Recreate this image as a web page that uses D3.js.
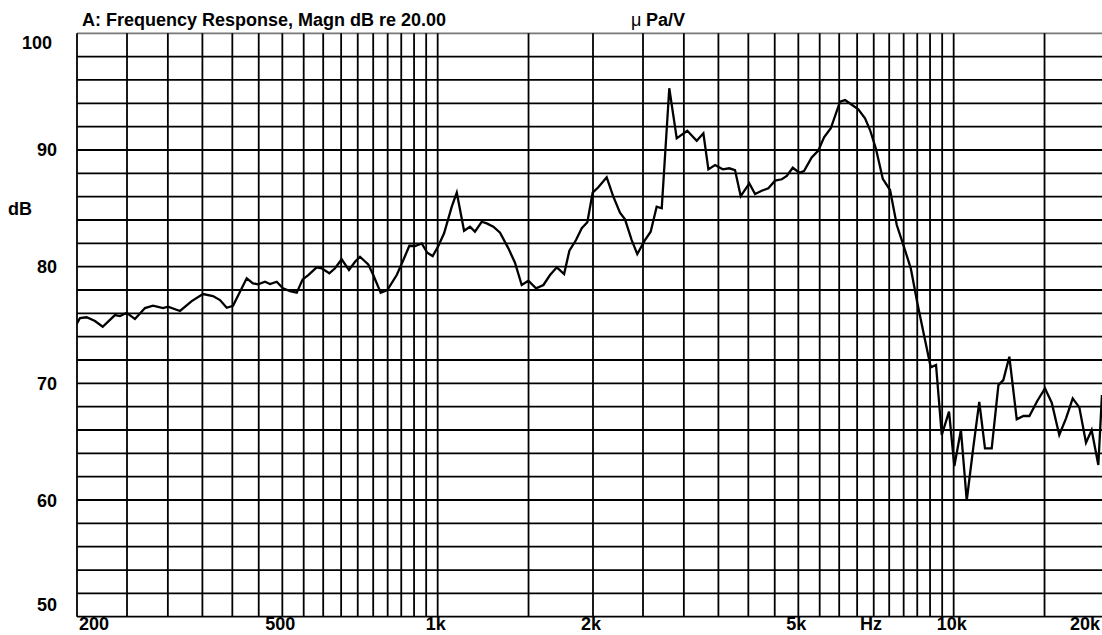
<!DOCTYPE html>
<html>
<head>
<meta charset="utf-8">
<script src="https://cdn.jsdelivr.net/npm/d3@7"></script>
<style>
  body { margin: 0; background: #fff; }
  text { font-family: "Liberation Sans", Arial, sans-serif; font-weight: bold; fill: #000; }
</style>
</head>
<body>
<div id="chart"></div>
<script>
var svgWidth = 1102;
var svgHeight = 635;

// measured frequency response (Hz, dB)
var freqHz = [200, 202.7, 208.8, 216.7, 224.3, 236.9, 242.3, 249.7, 259, 270.9,
  280.7, 293.6, 300.2, 316.7, 333.7, 350.9, 366.9, 378.6, 390.1, 401.2,
  426.5, 438.6, 448.6, 462.8, 473.2, 487.6, 501.4, 517.4, 533.2, 547.5,
  561.4, 582.8, 596, 616.6, 632.5, 651.6, 673.2, 691.6, 707, 733.6,
  750.2, 775.5, 798.7, 833, 858, 881.3, 903.8, 931.2, 954.8, 978,
  1003, 1029, 1065, 1089, 1125, 1155, 1181, 1217, 1245, 1282,
  1321, 1371, 1412, 1455, 1499, 1551, 1603, 1651, 1702, 1758,
  1800, 1854, 1902, 1950, 1997, 2048, 2126, 2188, 2256, 2307,
  2377, 2437, 2522, 2587, 2657, 2718, 2811, 2906, 3046, 3177,
  3273, 3347, 3448, 3569, 3674, 3769, 3866, 4018, 4122, 4246,
  4374, 4507, 4644, 4749, 4877, 5022, 5128, 5307, 5466, 5608,
  5779, 6023, 6159, 6316, 6534, 6733, 6886, 7073, 7288, 7529,
  7758, 7990, 8258, 8506, 8800, 9028, 9243, 9482, 9795, 10030,
  10330, 10600, 10920, 11210, 11500, 11850, 12210, 12480, 12820, 13250,
  13650, 14020, 14530, 15030, 15490, 16020, 16510, 17010, 17520, 18050,
  18510, 19070, 19380];

var magDb = [75.14, 75.6, 75.66, 75.34, 74.85, 75.85, 75.77, 76.05, 75.51, 76.45,
  76.65, 76.45, 76.57, 76.2, 77.05, 77.65, 77.48, 77.14, 76.48, 76.65,
  79.0, 78.57, 78.49, 78.71, 78.51, 78.71, 78.14, 77.91, 77.77, 78.91,
  79.28, 79.94, 79.86, 79.43, 79.86, 80.63, 79.71, 80.42, 80.85, 80.2,
  79.28, 77.77, 78.0, 79.28, 80.57, 81.79, 81.77, 82.0, 81.19, 80.91,
  81.77, 82.86, 85.14, 86.34, 83.08, 83.42, 83.0, 83.85, 83.71, 83.42,
  82.91, 81.57, 80.34, 78.43, 78.79, 78.14, 78.43, 79.28, 79.94, 79.37,
  81.37, 82.28, 83.29, 83.8, 86.34, 86.8, 87.66, 86.05, 84.62, 84.06,
  82.28, 81.08, 82.28, 83.0, 85.14, 85.0, 95.29, 91.0, 91.65, 90.79,
  91.43, 88.34, 88.71, 88.34, 88.43, 88.28, 86.05, 87.14, 86.23, 86.51,
  86.71, 87.37, 87.49, 87.77, 88.48, 88.05, 88.2, 89.37, 89.94, 91.09,
  91.86, 94.14, 94.28, 93.94, 93.49, 92.71, 91.71, 90.06, 87.53, 86.57,
  83.57, 81.85, 79.86, 76.86, 73.71, 71.37, 71.57, 65.57, 67.57, 62.91,
  66.0, 59.94, 64.57, 68.42, 64.43, 64.43, 69.85, 70.28, 72.28, 66.92,
  67.2, 67.2, 68.51, 69.57, 68.34, 65.57, 67.0, 68.71, 67.94, 64.91,
  66.0, 63.0, 69.0];

// grid and tick values
var gridFreqs = [200, 250, 300, 350, 400, 450, 500, 550, 600, 650, 700, 750, 800, 850, 900, 950,
  1000, 1500, 2000, 2500, 3000, 3500, 4000, 4500, 5000, 5500, 6000, 6500, 7000, 7500,
  8000, 8500, 9000, 9500, 10000, 15000, 20000];
var gridDb = [50, 52, 54, 56, 58, 60, 62, 64, 66, 68, 70, 72, 74, 76, 78, 80, 82, 84, 86, 88,
  90, 92, 94, 96, 98, 100];
var xTickValues = [200, 500, 1000, 2000, 5000, 10000, 20000];
var xTickLabels = ["200", "500", "1k", "2k", "5k", "10k", "20k"];
var yTickValues = [100, 90, 80, 70, 60, 50];

var svg = d3.select("#chart")
  .append("svg")
  .attr("width", svgWidth)
  .attr("height", svgHeight);

// log x scale, 200 Hz .. 20 kHz (right end runs just past the picture)
var xScale = d3.scaleLog()
  .domain([200, 20000])
  .range([77, 1109]);

var yScale = d3.scaleLinear()
  .domain([50, 100])
  .range([616.7, 33.3]);

var plotRight = svgWidth;

svg.append("defs").append("clipPath")
  .attr("id", "plotClip")
  .append("rect")
  .attr("x", xScale(200))
  .attr("y", yScale(100) - 2)
  .attr("width", plotRight - xScale(200))
  .attr("height", yScale(50) - yScale(100) + 4);

var grid = svg.append("g");

// horizontal grid
grid.selectAll("line.h")
  .data(gridDb)
  .enter()
  .append("line")
  .attr("class", "h")
  .attr("x1", xScale(200))
  .attr("x2", plotRight)
  .attr("y1", d => yScale(d))
  .attr("y2", d => yScale(d))
  .attr("stroke", d => d === 100 ? "#777" : "#000")
  .attr("stroke-width", 1.8);

// vertical grid
grid.selectAll("line.v")
  .data(gridFreqs)
  .enter()
  .append("line")
  .attr("class", "v")
  .attr("x1", d => xScale(d))
  .attr("x2", d => xScale(d))
  .attr("y1", yScale(100))
  .attr("y2", yScale(50))
  .attr("stroke", "#000")
  .attr("stroke-width", 1.8);

// response curve
var line = d3.line()
  .x(d => xScale(d[0]))
  .y(d => yScale(d[1]));

svg.append("path")
  .datum(d3.zip(freqHz, magDb))
  .attr("clip-path", "url(#plotClip)")
  .attr("d", line)
  .attr("fill", "none")
  .attr("stroke", "#000")
  .attr("stroke-width", 2.3)
  .attr("stroke-linejoin", "miter");

// x tick labels
svg.append("g")
  .selectAll("text")
  .data(xTickValues)
  .enter()
  .append("text")
  .attr("x", function(d, i) {
    if (i === 0) return xScale(d) + 2;
    if (i === xTickValues.length - 1) return svgWidth - 2;
    return xScale(d) - 2;
  })
  .attr("y", 630)
  .attr("text-anchor", function(d, i) {
    if (i === 0) return "start";
    if (i === xTickValues.length - 1) return "end";
    return "middle";
  })
  .attr("font-size", "18px")
  .text((d, i) => xTickLabels[i]);

svg.append("text")
  .attr("x", 871)
  .attr("y", 630)
  .attr("text-anchor", "middle")
  .attr("font-size", "18px")
  .text("Hz");

// y tick labels
svg.append("g")
  .selectAll("text")
  .data(yTickValues)
  .enter()
  .append("text")
  .attr("x", d => d === 100 ? 52 : 57)
  .attr("y", function(d) {
    if (d === 100) return yScale(d) + 9;
    if (d === 50) return yScale(d) - 12;
    return yScale(d);
  })
  .attr("dy", "0.36em")
  .attr("text-anchor", "end")
  .attr("font-size", "18px")
  .text(d => d);

svg.append("text")
  .attr("x", 8)
  .attr("y", yScale(85))
  .attr("dy", "0.36em")
  .attr("font-size", "18px")
  .text("dB");

// title
svg.append("text")
  .attr("x", 82)
  .attr("y", 26)
  .attr("font-size", "18px")
  .text("A: Frequency Response, Magn dB re 20.00");

svg.append("text")
  .attr("x", 631)
  .attr("y", 26)
  .attr("font-size", "18px")
  .style("font-weight", "normal")
  .text("\u03bc");

svg.append("text")
  .attr("x", 646)
  .attr("y", 26)
  .attr("font-size", "18px")
  .text("Pa/V");
</script>
</body>
</html>
